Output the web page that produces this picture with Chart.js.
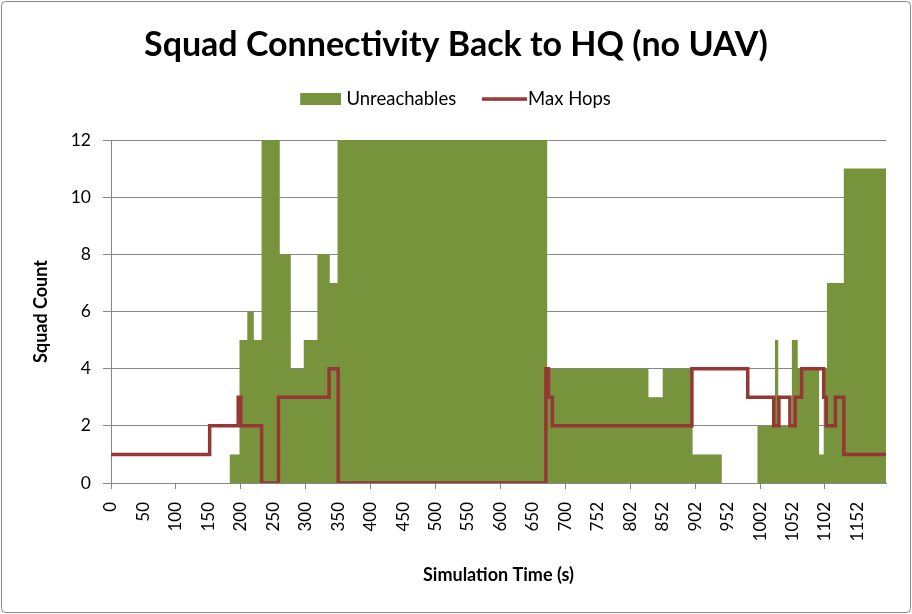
<!DOCTYPE html>
<html>
<head>
<meta charset="utf-8">
<script src="https://cdn.jsdelivr.net/npm/chart.js@4.4.0/dist/chart.umd.min.js"></script>
<style>
  html, body { margin: 0; padding: 0; background: #fff; }
</style>
</head>
<body>
<canvas id="chart" width="912" height="614"></canvas>
<script>
// labels under the time axis, one every 50 s of axis position
const tickLabels = ['0', '50', '100', '150', '200', '250', '300', '350', '400', '450', '500', '550',
  '600', '650', '700', '752', '802', '852', '902', '952', '1002', '1052', '1102', '1152'];

// Unreachables: time where each step starts (s) and squad count
const unreachTimes = [0, 183, 198, 210, 220, 232, 260, 277, 297, 318, 337, 349, 672, 828, 850,
  896, 941, 996, 1023, 1028, 1049, 1058, 1091, 1098, 1103, 1129, 1194];
const unreachCounts = [0, 1, 5, 6, 5, 12, 8, 4, 5, 8, 7, 12, 4, 3, 4,
  1, 0, 2, 5, 2, 5, 4, 1, 4, 7, 11, 11];

// Max Hops: time where each step starts (s) and hop count
const hopTimes = [0, 152, 196, 200, 232, 258, 336, 350, 670, 674, 680, 895, 981, 1021, 1029,
  1046, 1054, 1064, 1098, 1102, 1116, 1129, 1194];
const hopCounts = [1, 2, 3, 2, 0, 3, 4, 0, 4, 3, 2, 4, 3, 2, 3,
  2, 3, 4, 3, 2, 3, 1, 1];

const GREEN = '#77933C';
const RED = '#953735';
const GRID = '#878787';
const FONT = 'Lato';

// legend swatches (drawn as point style images)
function swatch(w, h, x0, fw, fh, color) {
  const c = document.createElement('canvas');
  c.width = w; c.height = h;
  const g = c.getContext('2d');
  g.fillStyle = color;
  g.fillRect(x0, (h - fh) / 2, fw, fh);
  return c;
}
const greenSwatch = swatch(44, 12, 3, 41, 12, GREEN);
const redSwatch = swatch(52, 4, 7, 45, 3.5, RED);

const frame = {
  id: 'frame',
  beforeDraw(chart) {
    const c = chart.ctx;
    c.save();
    c.fillStyle = '#fff';
    c.fillRect(0, 0, chart.width, chart.height);
    c.restore();
  },
  afterDraw(chart) {
    const c = chart.ctx;
    c.save();
    c.strokeStyle = GRID;
    c.lineWidth = 1;
    c.beginPath();
    c.roundRect(1.5, 1.5, chart.width - 3, chart.height - 3, 4);
    c.stroke();
    c.restore();
  }
};

const toPoints = (xs, ys) => xs.map((x, i) => ({ x, y: ys[i] }));

new Chart(document.getElementById('chart'), {
  type: 'line',
  data: {
    datasets: [
      {
        label: 'Unreachables',
        data: toPoints(unreachTimes, unreachCounts),
        stepped: true,
        fill: 'origin',
        backgroundColor: GREEN,
        borderColor: GREEN,
        borderWidth: 0,
        pointRadius: 0
      },
      {
        label: 'Max Hops',
        data: toPoints(hopTimes, hopCounts),
        stepped: true,
        fill: false,
        borderColor: RED,
        borderWidth: 3.5,
        pointRadius: 0
      }
    ]
  },
  options: {
    responsive: false,
    animation: false,
    devicePixelRatio: 1,
    layout: { padding: { top: 0, left: 26, right: 26, bottom: 10 } },
    plugins: {
      filler: { drawTime: 'beforeDatasetsDraw' },
      tooltip: { enabled: false },
      title: {
        display: true,
        text: 'Squad Connectivity Back to HQ (no UAV)',
        color: '#000',
        font: { family: FONT, size: 34, weight: 'bold', lineHeight: 1.1 },
        padding: { top: 26, bottom: 0 }
      },
      legend: {
        position: 'top',
        labels: {
          usePointStyle: true,
          pointStyleWidth: 36,
          padding: 26.6,
          color: '#000',
          font: { family: FONT, size: 18.5 },
          generateLabels(chart) {
            const items = Chart.defaults.plugins.legend.labels.generateLabels(chart);
            items[0].pointStyle = greenSwatch;
            items[1].pointStyle = redSwatch;
            return items;
          }
        }
      },
      // empty spacer between legend and plot
      subtitle: {
        display: true,
        text: '',
        weight: 500,
        font: { size: 1 },
        padding: { top: 0, bottom: 20.3 }
      }
    },
    scales: {
      x: {
        type: 'linear',
        min: 0,
        max: 1194,
        afterFit(scale) { scale.height = 121; },
        grid: {
          drawOnChartArea: false,
          tickLength: 6,
          tickColor: ctx => (ctx.index % 2 === 0 ? GRID : 'rgba(0,0,0,0)')
        },
        border: { color: GRID },
        ticks: {
          stepSize: 50,
          autoSkip: false,
          includeBounds: false,
          minRotation: 90,
          maxRotation: 90,
          padding: 13,
          color: '#000',
          font: { family: FONT, size: 17 },
          callback: v => tickLabels[Math.round(v / 50)]
        },
        title: {
          display: true,
          text: 'Simulation Time (s)',
          color: '#000',
          font: { family: FONT, size: 18, weight: 'bold' },
          padding: { top: 0, bottom: 18 }
        }
      },
      y: {
        min: 0,
        max: 12,
        afterFit(scale) { scale.width = 85; },
        grid: { color: GRID, tickColor: GRID, tickLength: 8 },
        border: { color: GRID },
        ticks: {
          stepSize: 2,
          padding: 12,
          color: '#000',
          font: { family: FONT, size: 17.5 }
        },
        title: {
          display: true,
          text: 'Squad Count',
          color: '#000',
          font: { family: FONT, size: 18, weight: 'bold' },
          padding: { top: 4, bottom: 0 }
        }
      }
    }
  },
  plugins: [frame]
});
</script>
</body>
</html>
